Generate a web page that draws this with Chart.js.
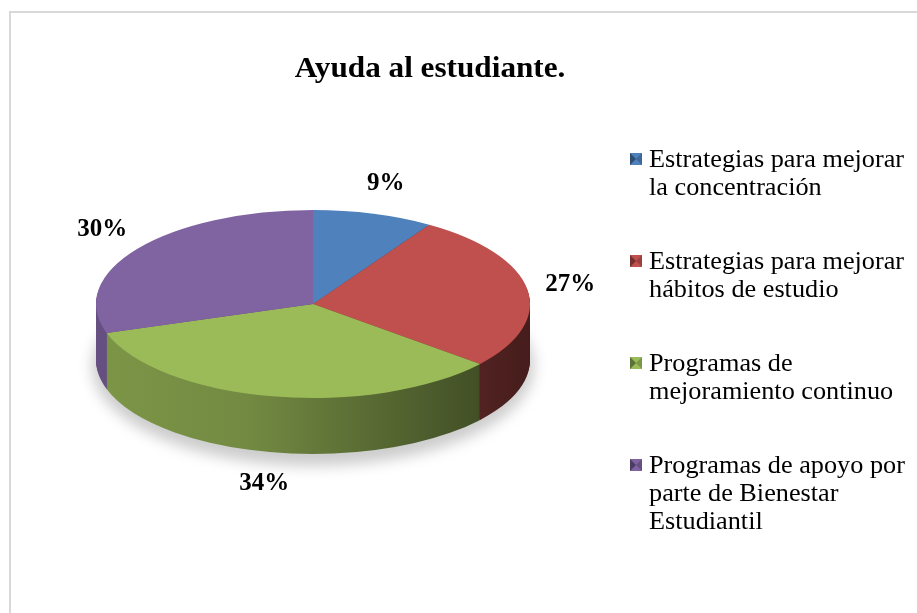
<!DOCTYPE html>
<html>
<head>
<meta charset="utf-8">
<script src="https://cdn.jsdelivr.net/npm/chart.js@4.4.1/dist/chart.umd.min.js"></script>
<style>
  html, body { margin: 0; padding: 0; background: #fff; }
  canvas { display: block; }
</style>
</head>
<body>
<canvas id="pie" width="917" height="613"></canvas>
<script>
// data
const chartTitle = 'Ayuda al estudiante.';
const categories = [
  ['Estrategias para mejorar', 'la concentración'],
  ['Estrategias para mejorar', 'hábitos de estudio'],
  ['Programas de', 'mejoramiento continuo'],
  ['Programas de apoyo por', 'parte de Bienestar', 'Estudiantil']
];
const percentages = [9, 27, 34, 30];
const sliceColors = ['#4f81bd', '#c0504d', '#9bbb59', '#8064a2'];

const TILT = 0.433;   // vertical squash of the pie top
const DEPTH = 56;     // thickness of the 3d side
const SERIF = '"Liberation Serif", "Times New Roman", serif';

function shade(hex, f) {
  const n = parseInt(hex.slice(1), 16);
  const r = Math.round(((n >> 16) & 255) * f);
  const g = Math.round(((n >> 8) & 255) * f);
  const b = Math.round((n & 255) * f);
  return 'rgb(' + r + ',' + g + ',' + b + ')';
}

// draws the frame, the side of the pie and squashes the top face
const pie3d = {
  id: 'pie3d',
  beforeDraw(chart) {
    const ctx = chart.ctx;
    ctx.save();
    ctx.strokeStyle = '#d9d9d9';
    ctx.lineWidth = 2;
    ctx.strokeRect(10, 12, 940, 640);
    ctx.restore();
  },
  beforeDatasetsDraw(chart) {
    const ctx = chart.ctx;
    const arcs = chart.getDatasetMeta(0).data;
    const cx = arcs[0].x, cy = arcs[0].y, r = arcs[0].outerRadius;

    // soft shadow under the pie
    ctx.save();
    ctx.filter = 'blur(7px)';
    ctx.fillStyle = 'rgba(0,0,0,0.2)';
    ctx.beginPath();
    ctx.ellipse(cx, cy + DEPTH + 6, r + 4, r * TILT + 6, 0, 0, Math.PI * 2);
    ctx.fill();
    ctx.restore();

    // side wall: stack the slices from the bottom up
    const grads = sliceColors.map(c => {
      const g = ctx.createLinearGradient(cx - r, 0, cx + r, 0);
      g.addColorStop(0, shade(c, 0.8));
      g.addColorStop(0.35, shade(c, 0.74));
      g.addColorStop(0.75, shade(c, 0.5));
      g.addColorStop(1, shade(c, 0.36));
      return g;
    });
    ctx.save();
    for (let d = DEPTH; d >= 1; d--) {
      arcs.forEach((a, i) => {
        ctx.fillStyle = grads[i];
        ctx.beginPath();
        ctx.moveTo(cx, cy + d);
        ctx.ellipse(cx, cy + d, r, r * TILT, 0, a.startAngle, a.endAngle);
        ctx.closePath();
        ctx.fill();
      });
    }
    ctx.restore();

    ctx.save();
    ctx.translate(cx, cy);
    ctx.scale(1, TILT);
    ctx.translate(-cx, -cy);
  },
  afterDatasetsDraw(chart) {
    chart.ctx.restore();
  }
};

// title, percentage labels and legend
const decorations = {
  id: 'decorations',
  afterDraw(chart) {
    const ctx = chart.ctx;
    const arcs = chart.getDatasetMeta(0).data;
    const cx = arcs[0].x, cy = arcs[0].y, r = arcs[0].outerRadius;

    ctx.save();
    ctx.fillStyle = '#000';
    ctx.textAlign = 'center';
    ctx.textBaseline = 'alphabetic';
    ctx.font = 'bold 30px ' + SERIF;
    ctx.save();
    ctx.translate(430, 77);
    ctx.scale(1.04, 1);
    ctx.fillText(chartTitle, 0, 0);
    ctx.restore();

    // percentages outside the slices
    ctx.font = 'bold 25px ' + SERIF;
    ctx.textBaseline = 'middle';
    arcs.forEach((a, i) => {
      const mid = (a.startAngle + a.endAngle) / 2;
      const ux = Math.cos(mid), uy = Math.sin(mid);
      const x = cx + r * ux * 1.2;
      const y = cy + r * TILT * uy * 1.34 + (uy > 0 ? DEPTH : 0);
      ctx.fillText(chart.data.datasets[0].data[i] + '%', x, y);
    });

    // legend
    ctx.textAlign = 'left';
    ctx.textBaseline = 'alphabetic';
    ctx.font = '25px ' + SERIF;
    chart.data.labels.forEach((lines, i) => {
      const base = 167 + i * 102;
      const col = sliceColors[i];
      const mx = 630, my = base - 14, s = 12;
      ctx.fillStyle = col;
      ctx.fillRect(mx, my, s, s);
      ctx.fillStyle = shade(col, 0.6);
      ctx.beginPath();
      ctx.moveTo(mx, my); ctx.lineTo(mx + s / 2, my + s / 2); ctx.lineTo(mx, my + s);
      ctx.closePath(); ctx.fill();
      ctx.fillStyle = shade(col, 0.8);
      ctx.beginPath();
      ctx.moveTo(mx + s, my); ctx.lineTo(mx + s / 2, my + s / 2); ctx.lineTo(mx + s, my + s);
      ctx.closePath(); ctx.fill();
      ctx.fillStyle = '#000';
      lines.forEach((t, j) => {
        ctx.save();
        ctx.translate(649, base + j * 28);
        ctx.scale(1.05, 1);
        ctx.fillText(t, 0, 0);
        ctx.restore();
      });
    });
    ctx.restore();
  }
};

new Chart(document.getElementById('pie').getContext('2d'), {
  type: 'pie',
  data: {
    labels: categories,
    datasets: [{
      data: percentages,
      backgroundColor: sliceColors,
      borderWidth: 0,
      clip: false
    }]
  },
  options: {
    responsive: false,
    animation: false,
    events: [],
    layout: {
      padding: { left: 96, right: 387, top: 87, bottom: 92 }
    },
    plugins: {
      legend: { display: false },
      tooltip: { enabled: false }
    }
  },
  plugins: [pie3d, decorations]
});
</script>
</body>
</html>
